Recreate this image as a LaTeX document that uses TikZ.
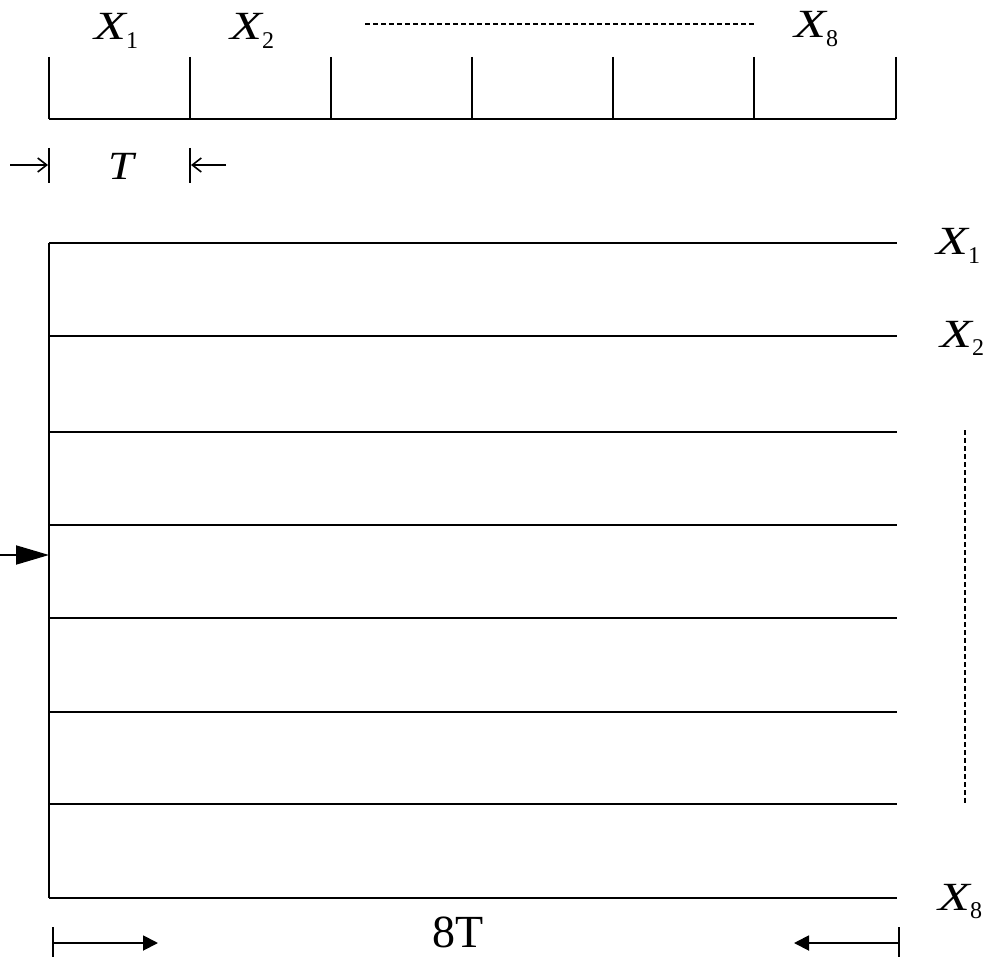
\documentclass[tikz,border=0pt]{standalone}
\usepackage{fontspec}
\setmainfont{Liberation Serif}
\usetikzlibrary{arrows.meta}
\newcommand{\xlab}[1]{\scalebox{1.3}[1]{\textit{X}}\kern-0.04em\raisebox{-0.22em}{\fontsize{24}{24}\selectfont #1}}
\begin{document}
\begin{tikzpicture}[x=1pt,y=-1pt,
  ln/.style={line width=1.9pt},
  lab/.style={inner sep=0pt,anchor=base west,font=\fontsize{40}{40}\selectfont},
  dsh/.style={line width=1.1pt,dash pattern=on 5pt off 3pt},
  openhead/.style={-{Straight Barb[length=9pt,width=14pt,line width=1.6pt]}},
  fillhead/.style={-{Triangle[length=15pt,width=15pt]}},
  bighead/.style={-{Triangle[length=33pt,width=19pt]}}]
\useasboundingbox (0,0) rectangle (984,957);
% top comb
\foreach \i/\x in {0/49,1/190,2/331,3/472,4/613,5/754,6/896}{
  \coordinate (t\i) at (\x,57);
  \coordinate (b\i) at (\x,119);
  \draw[ln] (t\i) -- (b\i);
}
\draw[ln] (b0) -- (b6);
\node[lab] (x1) at (94,40) {\xlab{1}};
\node[lab] (x2) at (230,40) {\xlab{2}};
\node[lab] (x8) at (794,38) {\xlab{8}};
\coordinate (d1) at (365,24);
\coordinate (d2) at (754,24);
\draw[dsh] (d1) -- (d2);
% T dimension
\coordinate (ta) at (49,148); \coordinate (tb) at (49,183);
\coordinate (tc) at (190,148); \coordinate (td) at (190,183);
\draw[ln] (ta) -- (tb);
\draw[ln] (tc) -- (td);
\coordinate (la) at (10,165); \coordinate (lb) at (48,165);
\coordinate (ra) at (226,165); \coordinate (rb) at (191,165);
\draw[ln,openhead] (la) -- (lb);
\draw[ln,openhead] (ra) -- (rb);
\node[lab] (T) at (108,180) {\scalebox{1.15}[1]{\textit{T}}};
% main block
\foreach \i/\y in {1/243,2/336,3/432,4/525,5/618,6/712,7/804,8/898}{
  \coordinate (l\i) at (49,\y);
  \coordinate (r\i) at (897,\y);
  \draw[ln] (l\i) -- (r\i);
}
\draw[ln] (l1) -- (l8);
\node[lab] (y1) at (936,255) {\xlab{1}};
\node[lab] (y2) at (940,347) {\xlab{2}};
\node[lab] (y8) at (938,910) {\xlab{8}};
\coordinate (v1) at (965,430);
\coordinate (v2) at (965,805);
\draw[dsh] (v1) -- (v2);
% input arrow
\coordinate (in0) at (-2,555);
\coordinate (in1) at (49,555);
\draw[ln,bighead] (in0) -- (in1);
% bottom 8T
\coordinate (ba) at (53,927); \coordinate (bb) at (53,960);
\coordinate (bc) at (899,927); \coordinate (bd) at (899,960);
\draw[ln] (ba) -- (bb);
\draw[ln] (bc) -- (bd);
\coordinate (ga) at (53,943); \coordinate (gb) at (158,943);
\coordinate (ha) at (899,943); \coordinate (hb) at (794,943);
\draw[ln,fillhead] (ga) -- (gb);
\draw[ln,fillhead] (ha) -- (hb);
\node[inner sep=0pt,anchor=base west,font=\fontsize{46}{46}\selectfont] (eight) at (432,947) {8T};
\end{tikzpicture}
\end{document}
